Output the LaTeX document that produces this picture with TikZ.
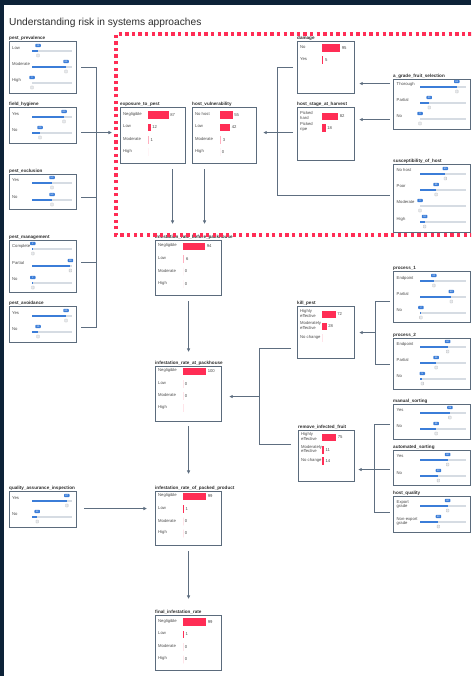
\documentclass[tikz,border=0pt]{standalone}
\usepackage{fontspec}
\setmainfont{Liberation Sans}
\usetikzlibrary{arrows.meta}
\definecolor{navy}{HTML}{0D2238}
\definecolor{boxc}{HTML}{5B6B7C}
\definecolor{connc}{HTML}{5E6E80}
\definecolor{txt}{HTML}{2E2E2E}
\definecolor{rowc}{HTML}{4A4A4A}
\definecolor{redc}{HTML}{FF2D55}
\definecolor{pinkc}{HTML}{FFB0C0}
\definecolor{bluec}{HTML}{3B7DD8}
\definecolor{trackc}{HTML}{D6DCE3}
\definecolor{thumbc}{HTML}{E6E9ED}
\tikzset{
 panel/.style={draw=boxc, line width=1.1pt, anchor=north west, inner sep=0pt, fill=white},
 ptitle/.style={anchor=base west, inner sep=0pt, font=\fontsize{4.6}{5}\selectfont\bfseries, text=txt},
 rowlab/.style={anchor=west, inner sep=0pt, font=\fontsize{4.2}{4.8}\selectfont, text=rowc, align=left},
 valtxt/.style={anchor=west, inner sep=0pt, font=\fontsize{4.2}{4.8}\selectfont, text=rowc},
 conn/.style={draw=connc, line width=0.8pt},
 arr/.style={conn, -{Latex[length=3.6pt,width=3.6pt]}},
 bubble/.style={fill=bluec, rounded corners=0.8pt, inner sep=0pt, minimum width=5.5pt, minimum height=3.4pt, text=white, font=\fontsize{2.4}{2.4}\selectfont},
 thumb/.style={draw=black!25, fill=thumbc, line width=0.3pt, rounded corners=0.5pt, minimum width=2.6pt, minimum height=3pt, inner sep=0pt},
}
% name, x1, y1, x2, y2, title
\newcommand\mkpanel[6]{%
 \pgfmathsetmacro\pw{#4-#2}\pgfmathsetmacro\ph{#5-#3}%
 \node[panel, minimum width=\pw pt, minimum height=\ph pt] (#1) at (#2,#3) {};
 \node[ptitle] (#1-t) at (#2,#3-1.8) {#6};}
% name, label x, label y, label, track x0, track x1, slider y, value
\newcommand\srow[8]{%
 \pgfmathsetmacro\xf{#5+(#6-#5)*#8/100}%
 \node[rowlab] (#1) at (#2,#3) {#4};
 \draw[trackc, line width=1.3pt] (#5,#7) -- (#6,#7);
 \draw[bluec, line width=1.3pt] (#5,#7) -- (\xf,#7);
 \node[thumb] (#1-th) at (\xf,#7+4.5) {};
 \node[bubble] (#1-b) at (\xf,#7-5.5) {#8};}
% name, label x, label y, label, bar x, bar width, colour, value
\newcommand\brow[8]{%
 \node[rowlab] (#1) at (#2,#3) {#4};
 \fill[#7] (#5,#3-2.8) rectangle ++(#6,7.6);
 \node[valtxt] (#1-v) at (#5+#6+1.6,#3+1) {#8};}

\begin{document}
\begin{tikzpicture}[x=1pt,y=-1pt]
\useasboundingbox (0,0) rectangle (471,676);
\fill[white] (0,0) rectangle (471,676);
\fill[navy] (0,0) rectangle (471,5);
\fill[navy] (0,0) rectangle (4,676);
\clip (0,0) rectangle (471,676);

\node[anchor=base west, inner sep=0pt, font=\fontsize{10.2}{12}\selectfont, text=txt] (title) at (9,25.5) {Understanding risk in systems approaches};

% ---------- left column (sliders)
\mkpanel{pp}{9}{41}{76}{93}{pest\_prevalence}
\srow{pp1}{12}{48}{Low}{32}{72}{51}{15}
\srow{pp2}{12}{64}{Moderate}{32}{72}{67}{85}
\srow{pp3}{12}{80}{High}{32}{72}{83}{0}

\mkpanel{fh}{9}{107}{76}{143}{field\_hygiene}
\srow{fh1}{12}{114}{Yes}{32}{72}{117}{80}
\srow{fh2}{12}{130}{No}{32}{72}{133}{20}

\mkpanel{pe}{9}{174}{76}{209}{pest\_exclusion}
\srow{pe1}{12}{180}{Yes}{32}{72}{183}{50}
\srow{pe2}{12}{197}{No}{32}{72}{200}{50}

\mkpanel{pm}{9}{240}{76}{292}{pest\_management}
\srow{pm1}{12}{246}{Complete}{32}{72}{249}{2}
\srow{pm2}{12}{263}{Partial}{32}{72}{266}{96}
\srow{pm3}{12}{279}{No}{32}{72}{283}{2}

\mkpanel{pa}{9}{306}{76}{342}{pest\_avoidance}
\srow{pa1}{12}{313}{Yes}{32}{72}{316}{85}
\srow{pa2}{12}{329}{No}{32}{72}{332}{15}

\mkpanel{qa}{9}{491}{76}{527}{quality\_assurance\_inspection}
\srow{qa1}{12}{498}{Yes}{32}{72}{501}{87}
\srow{qa2}{12}{514}{No}{32}{72}{517}{13}

% ---------- right column (sliders)
\mkpanel{ag}{393}{79}{470}{129}{a\_grade\_fruit\_selection}
\srow{ag1}{396.5}{84}{Thorough}{420}{466}{87}{80}
\srow{ag2}{396.5}{100}{Partial}{420}{466}{103}{20}
\srow{ag3}{396.5}{116}{No}{420}{466}{119}{0}

\mkpanel{soh}{393}{164}{470}{232}{susceptibility\_of\_host}
\srow{soh1}{396.5}{170}{No host}{420}{466}{174}{55}
\srow{soh2}{396.5}{186}{Poor}{420}{466}{190}{35}
\srow{soh3}{396.5}{202}{Moderate}{420}{466}{206}{0}
\srow{soh4}{396.5}{219}{High}{420}{466}{222}{10}

\mkpanel{p1}{393}{271}{470}{322}{process\_1}
\srow{p11}{396.5}{278}{Endpoint}{420}{466}{281}{30}
\srow{p12}{396.5}{294}{Partial}{420}{466}{297}{68}
\srow{p13}{396.5}{310}{No}{420}{466}{313}{2}

\mkpanel{p2}{393}{338}{470}{389}{process\_2}
\srow{p21}{396.5}{344}{Endpoint}{420}{466}{347}{60}
\srow{p22}{396.5}{360}{Partial}{420}{466}{363}{35}
\srow{p23}{396.5}{376}{No}{420}{466}{379}{5}

\mkpanel{ms}{393}{404}{470}{439}{manual\_sorting}
\srow{ms1}{396.5}{410}{Yes}{420}{466}{413}{65}
\srow{ms2}{396.5}{426}{No}{420}{466}{429}{35}

\mkpanel{as}{393}{450}{470}{485}{automated\_sorting}
\srow{as1}{396.5}{456}{Yes}{420}{466}{460}{60}
\srow{as2}{396.5}{473}{No}{420}{466}{476}{40}

\mkpanel{hq}{393}{496}{470}{532}{host\_quality}
\srow{hq1}{396.5}{504.5}{Export\\grade}{420}{466}{506}{60}
\srow{hq2}{396.5}{521.5}{Non-export\\grade}{420}{466}{522}{40}

% ---------- distribution panels
\mkpanel{exp}{120}{107}{185}{163}{exposure\_to\_pest}
\brow{exp1}{123}{114}{Negligible}{148}{20.5}{redc}{87}
\brow{exp2}{123}{126.5}{Low}{148}{2.5}{redc}{12}
\brow{exp3}{123}{139}{Moderate}{148}{0.8}{pinkc}{1}
\brow{exp4}{123}{151}{High}{148}{0}{pinkc}{}

\mkpanel{hv}{192}{107}{256}{163}{host\_vulnerability}
\brow{hv1}{195}{114}{No host}{220}{12.5}{redc}{55}
\brow{hv2}{195}{126.5}{Low}{220}{10}{redc}{42}
\brow{hv3}{195}{139}{Moderate}{220}{1}{pinkc}{3}
\brow{hv4}{195}{151}{High}{220}{0}{pinkc}{0}

\mkpanel{dmg}{297}{41}{354}{93}{damage}
\brow{dmg1}{300}{47}{No}{322}{18}{redc}{95}
\brow{dmg2}{300}{59}{Yes}{322}{1.2}{redc}{5}

\mkpanel{hsh}{297}{107}{354}{160}{host\_stage\_at\_harvest}
\brow{hsh1}{300}{115.5}{Picked\\hard}{322}{16}{redc}{82}
\brow{hsh2}{300}{127}{Picked\\ripe}{322}{3.5}{redc}{18}

\mkpanel{irb}{155}{240}{221}{295}{infestation\_rate\_before\_packhouse}
\brow{irb1}{158}{245.5}{Negligible}{183}{22}{redc}{94}
\brow{irb2}{158}{258}{Low}{183}{1.2}{pinkc}{6}
\brow{irb3}{158}{270.5}{Moderate}{183}{0}{pinkc}{0}
\brow{irb4}{158}{283}{High}{183}{0}{pinkc}{0}

\mkpanel{kp}{297}{306}{354}{358}{kill\_pest}
\brow{kp1}{300}{313.5}{Highly\\effective}{322}{13.5}{redc}{72}
\brow{kp2}{300}{325.5}{Moderately\\effective}{322}{4.5}{redc}{28}
\brow{kp3}{300}{337}{No change}{322}{0}{redc}{}

\mkpanel{irp}{155}{366}{221}{421}{infestation\_rate\_at\_packhouse}
\brow{irp1}{158}{370.5}{Negligible}{183}{23}{redc}{100}
\brow{irp2}{158}{383}{Low}{183}{0}{redc}{0}
\brow{irp3}{158}{395}{Moderate}{183}{0}{redc}{0}
\brow{irp4}{158}{407}{High}{183}{0}{redc}{}

\mkpanel{rif}{298}{430}{354}{481}{remove\_infected\_fruit}
\brow{rif1}{301}{436.5}{Highly\\effective}{322}{14}{redc}{75}
\brow{rif2}{301}{449}{Moderately\\effective}{322}{1.7}{redc}{11}
\brow{rif3}{301}{460}{No change}{322}{1.7}{redc}{14}

\mkpanel{irpp}{155}{491}{221}{545}{infestation\_rate\_of\_packed\_product}
\brow{irpp1}{158}{495.5}{Negligible}{183}{23}{redc}{99}
\brow{irpp2}{158}{508}{Low}{183}{0.7}{redc}{1}
\brow{irpp3}{158}{520.5}{Moderate}{183}{0}{redc}{0}
\brow{irpp4}{158}{532.5}{High}{183}{0}{redc}{0}

\mkpanel{fir}{155}{615}{221}{670}{final\_infestation\_rate}
\brow{fir1}{158}{621}{Negligible}{183}{23}{redc}{99}
\brow{fir2}{158}{633.5}{Low}{183}{0.7}{redc}{1}
\brow{fir3}{158}{646}{Moderate}{183}{0}{redc}{0}
\brow{fir4}{158}{658.5}{High}{183}{0}{redc}{0}

% ---------- connectors
% left bus -> exposure_to_pest
\coordinate (lbus) at (96,0);
\coordinate (pp-o) at ([xshift=4pt]pp.east);
\coordinate (fh-o) at ([xshift=4pt,yshift=-7pt]fh.east);
\coordinate (pe-o) at ([xshift=4pt,yshift=-5.5pt]pe.east);
\coordinate (pm-o) at ([xshift=4pt,yshift=4pt]pm.east);
\coordinate (pa-o) at ([xshift=4pt,yshift=-3pt]pa.east);
\coordinate (exp-i) at ([xshift=-8pt,yshift=3pt]exp.west);
\draw[conn] (pp-o) -- (pp-o -| lbus) -- (pa-o -| lbus) -- (pa-o);
\draw[conn] (pe-o) -- (pe-o -| lbus);
\draw[conn] (pm-o) -- (pm-o -| lbus);
\draw[arr] (fh-o) -- (exp-i);

% exposure / vulnerability -> before packhouse
\coordinate (exp-d) at ([xshift=19.5pt,yshift=-5pt]exp.south);
\coordinate (hv-d) at ([xshift=-20pt,yshift=-5pt]hv.south);
\coordinate (irb-in) at ([yshift=16pt]irb.north);
\draw[arr] (exp-d) -- (exp-d |- irb-in);
\draw[arr] (hv-d) -- (hv-d |- irb-in);

% right top bus -> host_vulnerability
\coordinate (rbus) at (277,0);
\coordinate (dmg-o) at ([xshift=-4pt]dmg.west);
\coordinate (hsh-o) at ([xshift=-4pt,yshift=1.5pt]hsh.west);
\coordinate (soh-o) at ([xshift=-3pt,yshift=3pt]soh.west);
\coordinate (hv-i) at ([xshift=6pt,yshift=3pt]hv.east);
\draw[conn] (dmg-o) -- (dmg-o -| rbus) -- (soh-o -| rbus) -- (soh-o);
\draw[conn] (hsh-o) -- (hsh-o -| rbus);
\draw[arr] (hsh-o -| rbus) -- (hv-i);

% a_grade_fruit_selection -> damage, host_stage_at_harvest
\coordinate (ag-o1) at ([xshift=-3pt,yshift=21pt]ag.west);
\coordinate (ag-o2) at ([xshift=-3pt,yshift=-15pt]ag.west);
\coordinate (dmg-r) at ([xshift=4pt]dmg.east);
\coordinate (hsh-r) at ([xshift=4pt]hsh.east);
\draw[arr] (ag-o1) -- (ag-o1 -| dmg-r);
\draw[arr] (ag-o2) -- (ag-o2 -| hsh-r);

% process_1 / process_2 -> kill_pest
\coordinate (kbr) at (375,0);
\coordinate (p1-o) at ([xshift=-3pt,yshift=-4.5pt]p1.west);
\coordinate (p2-o) at ([xshift=-3pt,yshift=-0.5pt]p2.west);
\coordinate (kp-i) at ([xshift=4pt]kp.east);
\draw[conn] (p1-o) -- (p1-o -| kbr) -- (p2-o -| kbr) -- (p2-o);
\draw[arr] (kp-i -| kbr) -- (kp-i);

% sorting / quality -> remove_infected_fruit
\coordinate (sbr) at (374,0);
\coordinate (ms-o) at ([xshift=-3pt,yshift=-2.5pt]ms.west);
\coordinate (as-o) at ([xshift=-3pt,yshift=-1.5pt]as.west);
\coordinate (hq-o) at ([xshift=-3pt,yshift=2pt]hq.west);
\coordinate (rif-r) at ([xshift=3pt]rif.east);
\draw[conn] (ms-o) -- (ms-o -| sbr) -- (hq-o -| sbr) -- (hq-o);
\draw[arr] (as-o) -- (as-o -| rif-r);

% kill_pest / remove_infected_fruit -> at packhouse
\coordinate (mbus) at (259,0);
\coordinate (kp-o) at ([xshift=-6pt,yshift=-16pt]kp.west);
\coordinate (rif-o) at ([xshift=-7pt,yshift=11.5pt]rif.west);
\coordinate (irp-i) at ([xshift=7pt,yshift=-2.5pt]irp.east);
\draw[conn] (kp-o) -- (kp-o -| mbus) -- (rif-o -| mbus) -- (rif-o);
\draw[arr] (irp-i -| mbus) -- (irp-i);

% vertical chain
\draw[arr] ([yshift=-5pt]irb.south) -- ([yshift=14pt]irp.north);
\draw[arr] ([yshift=-4pt]irp.south) -- ([yshift=17pt]irpp.north);
\draw[arr] ([yshift=-5pt]irpp.south) -- ([yshift=16pt]fir.north);

% quality assurance -> packed product
\coordinate (qa-o) at ([xshift=7pt,yshift=1pt]qa.east);
\coordinate (irpp-l) at ([xshift=-8pt]irpp.west);
\draw[arr] (qa-o) -- (qa-o -| irpp-l);

% red dotted frame
\draw[redc, line width=3.3pt, dash pattern=on 3.3pt off 3.3pt] (480,235) -- (116,235) -- (116,34) -- (480,34);
\end{tikzpicture}
\end{document}
